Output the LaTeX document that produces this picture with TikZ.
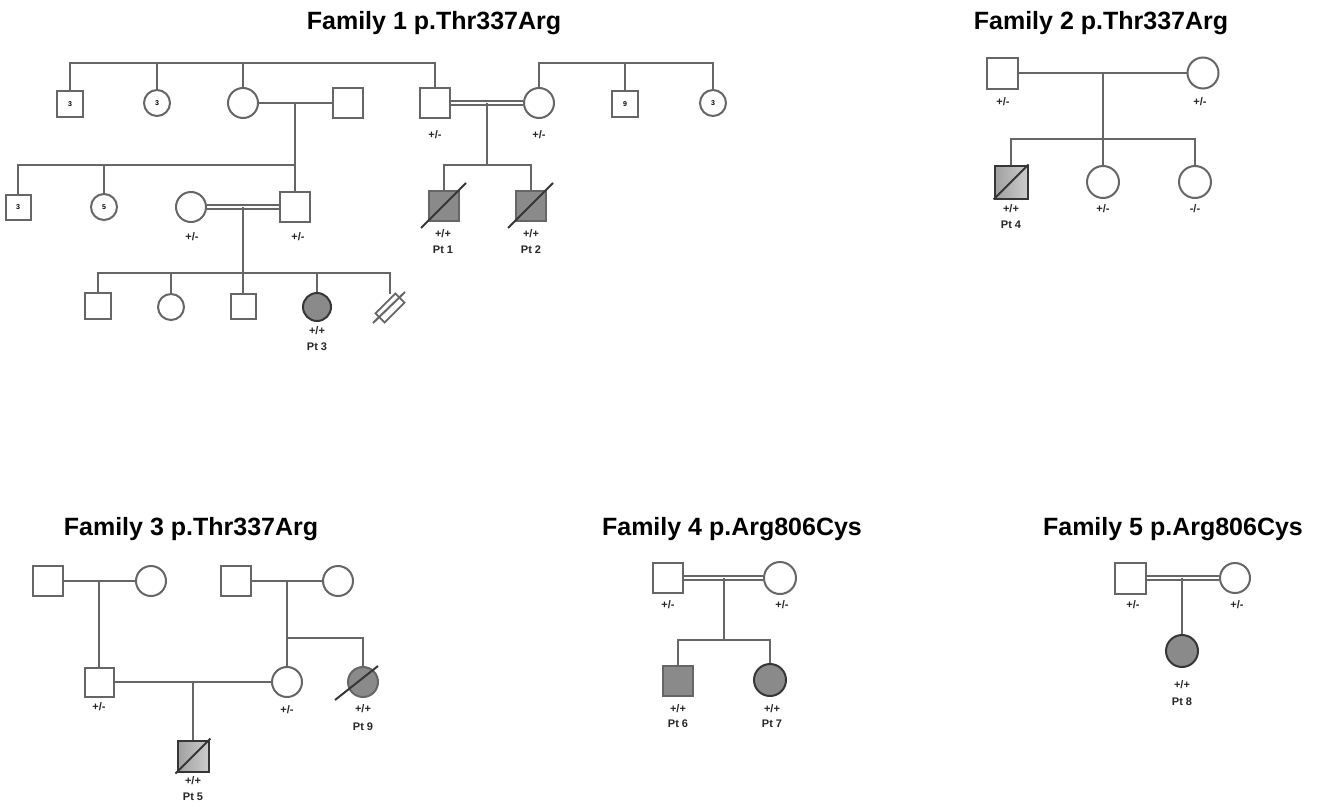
\documentclass[tikz,border=0pt]{standalone}
\usepackage{fontspec}
\setmainfont{Liberation Sans}
\usetikzlibrary{calc}
\definecolor{ln}{HTML}{666666}
\definecolor{aff}{HTML}{8A8A8A}
\definecolor{dk}{HTML}{363636}
\tikzset{
  x=1pt, y=-1pt,
  conn/.style={draw=ln, line width=2.4pt},
  dbl/.style={draw=ln, line width=1.6pt, double=white, double distance=2.2pt},
  slash/.style={draw=dk, line width=2pt},
  sq/.style={rectangle, draw=ln, line width=2pt, fill=white, minimum size=30pt, inner sep=0pt},
  ci/.style={circle, draw=ln, line width=2pt, fill=white, minimum size=30pt, inner sep=0pt},
  small/.style={minimum size=26pt, font=\bfseries\fontsize{7}{8}\selectfont},
  affsq/.style={sq, fill=aff},
  affci/.style={ci, fill=aff, draw=dk},
  gradsq/.style={sq, draw=dk, left color=gray!75, right color=gray!40},
  lab/.style={font=\bfseries\fontsize{11}{12}\selectfont, text=black!85, inner sep=0pt},
  ttl/.style={font=\bfseries\fontsize{25}{28}\selectfont, inner sep=0pt}
}
\begin{document}
\begin{tikzpicture}
\useasboundingbox (0,0) rectangle (1320,806);

% ---------------- Titles ----------------
\node[ttl] (t1) at (434,23) {Family 1 p.Thr337Arg};
\node[ttl] (t2) at (1101,23) {Family 2 p.Thr337Arg};
\node[ttl] (t3) at (191,529) {Family 3 p.Thr337Arg};
\node[ttl] (t4) at (732,529) {Family 4 p.Arg806Cys};
\node[ttl] (t5) at (1173,529) {Family 5 p.Arg806Cys};

% ---------------- Family 1 ----------------
\coordinate (top) at (0,63);
\node[sq, small] (a1) at (70,104) {3};
\node[ci, small] (a2) at (157,103) {3};
\node[ci] (a3) at (243,103) {};
\node[sq] (a4) at (348,103) {};
\node[sq] (a5) at (435,103) {};
\node[ci] (a6) at (539,103) {};
\node[sq, small] (a7) at (625,104) {9};
\node[ci, small] (a8) at (713,103) {3};

\draw[conn] (a1.north) -- (a1.north |- top) -| (a5.north);
\draw[conn] (a2.north) -- (a2.north |- top);
\draw[conn] (a3.north) -- (a3.north |- top);
\draw[conn] (a6.north) -- (a6.north |- top) -| (a8.north);
\draw[conn] (a7.north) -- (a7.north |- top);

\draw[conn] (a3.east) -- (a4.west);
\coordinate (m1) at (295,103);
\node[sq, small, minimum size=25pt] (b1) at (18,207) {3};
\node[ci, small] (b2) at (104,207) {5};
\node[ci] (b3) at (191,207) {};
\node[sq] (b4) at (295,207) {};
\coordinate (s1) at (295,165);
\draw[conn] (m1) -- (b4.north);
\draw[conn] (s1) -| (b1.north);
\draw[conn] (b2.north) -- (b2.north |- s1);

\draw[dbl] (b3.east) -- (b4.west);
\coordinate (m2) at (243,207);
\coordinate (s2) at (243,273);
\draw[conn] (m2) -- (s2);
\node[sq, minimum size=26pt] (c1) at (98,306) {};
\node[ci, minimum size=26pt] (c2) at (171,307) {};
\node[sq, minimum size=25pt] (c3) at (243,306) {};
\node[affci, minimum size=28pt] (c4) at (317,307) {};
\node[rectangle, draw=ln, line width=1.8pt, minimum width=28pt, minimum height=13pt, inner sep=0pt, rotate=45] (c5) at (390,308) {};
\coordinate (c5top) at (390,294);
\draw[conn] (c1.north) -- (c1.north |- s2) -| (c5top);
\draw[conn] (c2.north) -- (c2.north |- s2);
\draw[conn] (s2) -- (c3.north);
\draw[conn] (c4.north) -- (c4.north |- s2);
\draw[slash, draw=ln] ($(c5.center)+(-17,15)$) -- ($(c5.center)+(15,-16)$);

\draw[dbl] (a5.east) -- (a6.west);
\coordinate (m3) at (487,103);
\coordinate (s3) at (487,165);
\draw[conn] (m3) -- (s3);
\node[affsq] (p1) at (444,206) {};
\node[affsq] (p2) at (531,206) {};
\draw[conn] (p1.north) -- (p1.north |- s3) -| (p2.north);
\draw[slash] ($(p1.south west)+(-7,6)$) -- ($(p1.north east)+(6,-7)$);
\draw[slash] ($(p2.south west)+(-7,6)$) -- ($(p2.north east)+(6,-7)$);

\node[lab] (la5) at (435,135) {+/-};
\node[lab] (la6) at (539,135) {+/-};
\node[lab] (lb3) at (192,237) {+/-};
\node[lab] (lb4) at (298,237) {+/-};
\node[lab] (lp1a) at (443,234) {+/+};
\node[lab] (lp1b) at (443,250) {Pt 1};
\node[lab] (lp2a) at (531,234) {+/+};
\node[lab] (lp2b) at (531,250) {Pt 2};
\node[lab] (lc4a) at (317,331) {+/+};
\node[lab] (lc4b) at (317,347) {Pt 3};

% ---------------- Family 2 ----------------
\node[sq, minimum size=31pt] (f2a) at (1002,73) {};
\node[ci, minimum size=31pt] (f2b) at (1203,73) {};
\draw[conn] (f2a.east) -- (f2b.west);
\coordinate (m4) at (1103,73);
\coordinate (s4) at (1103,139);
\node[gradsq, minimum size=33pt] (p4) at (1011,182) {};
\node[ci, minimum size=32pt] (f2c) at (1103,182) {};
\node[ci, minimum size=32pt] (f2d) at (1195,182) {};
\draw[conn] (m4) -- (f2c.north);
\draw[conn] (p4.north) -- (p4.north |- s4) -| (f2d.north);
\draw[slash] (p4.south west) -- (p4.north east);
\node[lab] (lf2a) at (1003,102) {+/-};
\node[lab] (lf2b) at (1200,102) {+/-};
\node[lab] (lp4a) at (1011,209) {+/+};
\node[lab] (lp4b) at (1011,225) {Pt 4};
\node[lab] (lf2c) at (1103,209) {+/-};
\node[lab] (lf2d) at (1195,209) {-/-};

% ---------------- Family 3 ----------------
\node[sq] (g1) at (48,581) {};
\node[ci] (g2) at (151,581) {};
\draw[conn] (g1.east) -- (g2.west);
\coordinate (m5) at (99,581);
\node[sq, minimum size=29pt] (g3) at (99,682) {};
\draw[conn] (m5) -- (g3.north);
\node[sq] (g4) at (236,581) {};
\node[ci] (g5) at (338,581) {};
\draw[conn] (g4.east) -- (g5.west);
\coordinate (m6) at (287,581);
\node[ci] (g6) at (287,682) {};
\node[affci, draw=ln] (p9) at (363,682) {};
\coordinate (s6) at (287,638);
\draw[conn] (m6) -- (g6.north);
\draw[conn] (s6) -| (p9.north);
\draw[slash] ($(p9.center)+(-28,18)$) -- ($(p9.center)+(15,-16)$);
\draw[conn] (g3.east) -- (g6.west);
\coordinate (m7) at (193,682);
\node[gradsq, minimum size=31pt] (p5) at (193,756) {};
\draw[conn] (m7) -- (p5.north);
\draw[slash] ($(p5.south west)+(-1,1)$) -- ($(p5.north east)+(1,-1)$);
\node[lab] (lg3) at (99,707) {+/-};
\node[lab] (lg6) at (287,710) {+/-};
\node[lab] (lp9a) at (363,709) {+/+};
\node[lab] (lp9b) at (363,727) {Pt 9};
\node[lab] (lp5a) at (193,781) {+/+};
\node[lab] (lp5b) at (193,797) {Pt 5};

% ---------------- Family 4 ----------------
\node[sq] (h1) at (668,578) {};
\node[ci, minimum size=32pt] (h2) at (780,578) {};
\draw[dbl] (h1.east) -- (h2.west);
\coordinate (m8) at (724,578);
\coordinate (s8) at (724,640);
\draw[conn] (m8) -- (s8);
\node[affsq] (p6) at (678,681) {};
\node[affci, minimum size=32pt] (p7) at (770,680) {};
\draw[conn] (p6.north) -- (p6.north |- s8) -| (p7.north);
\node[lab] (lh1) at (668,605) {+/-};
\node[lab] (lh2) at (782,605) {+/-};
\node[lab] (lp6a) at (678,709) {+/+};
\node[lab] (lp6b) at (678,724) {Pt 6};
\node[lab] (lp7a) at (772,709) {+/+};
\node[lab] (lp7b) at (772,724) {Pt 7};

% ---------------- Family 5 ----------------
\node[sq, minimum size=31pt] (k1) at (1130,578) {};
\node[ci] (k2) at (1235,578) {};
\draw[dbl] (k1.east) -- (k2.west);
\coordinate (m9) at (1182,578);
\node[affci, minimum size=32pt] (p8) at (1182,651) {};
\draw[conn] (m9) -- (p8.north);
\node[lab] (lk1) at (1133,605) {+/-};
\node[lab] (lk2) at (1237,605) {+/-};
\node[lab] (lp8a) at (1182,685) {+/+};
\node[lab] (lp8b) at (1182,702) {Pt 8};
\end{tikzpicture}
\end{document}
